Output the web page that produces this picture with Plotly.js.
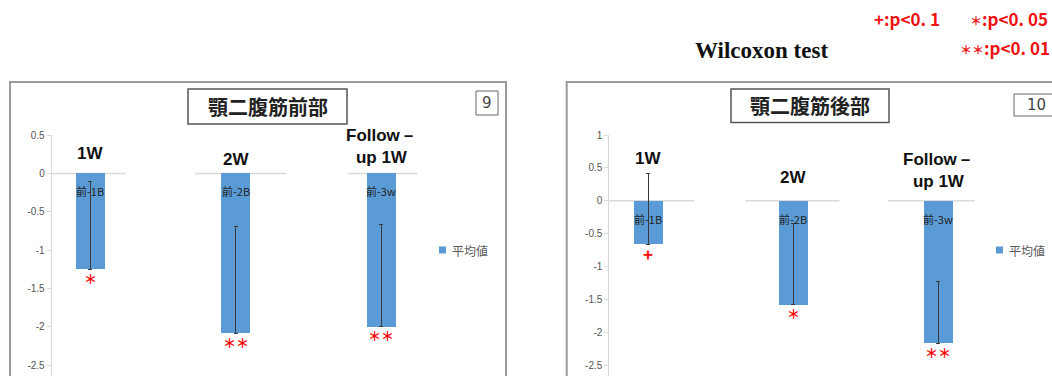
<!DOCTYPE html>
<html><head><meta charset="utf-8">
<script src="https://cdn.plot.ly/plotly-3.0.1.min.js"></script>
<style>html,body{margin:0;padding:0;background:#fff;}#chart{width:1052px;height:376px;}</style>
</head><body><div id="chart"></div>
<script>
// ---- data ----
const categories = ['前-1B', '前-2B', '前-3w'];
const periodLabels = ['1W', '2W', 'Follow－<br>up 1W'];
const panelTitles = ['顎二腹筋前部', '顎二腹筋後部'];
const panelNumbers = ['9', '10'];
const seriesName = '平均値';
const anteriorMean = [-1.25, -2.08, -2.00];
const anteriorSD = [1.14, 1.39, 1.34];
const anteriorSig = ['*', '**', '**'];
const posteriorMean = [-0.66, -1.58, -2.16];
const posteriorSD = [1.07, 1.24, 0.93];
const posteriorSig = ['+', '*', '**'];
const anteriorTicks = [0.5, 0, -0.5, -1, -1.5, -2, -2.5];
const anteriorTickText = ['0.5', '0', '-0.5', '-1', '-1.5', '-2', '-2.5'];
const posteriorTicks = [1, 0.5, 0, -0.5, -1, -1.5, -2, -2.5];
const posteriorTickText = ['1', '0.5', '0', '-0.5', '-1', '-1.5', '-2', '-2.5'];
const testName = 'Wilcoxon test';
const sigMarks = ['+', '*', '**'];
const sigText = [':p&lt;0. 1', ':p&lt;0. 05', ':p&lt;0. 01'];

// ---- layout helpers ----
const W = 1052, H = 376;
const px = x => x / W;
const py = y => 1 - y / H;
const BLUE = '#5b9bd5';
const CJK = '"Noto Sans CJK JP", "Noto Sans", sans-serif';
const SANS = '"Liberation Sans", Arial, sans-serif';
// asterisks drawn as centred full-width stars, shrunk; '+' kept at full size
const markText = (s, starSize) => s.indexOf('*') >= 0
  ? '<span style="font-size:' + starSize + 'px">' + s.replace(/\*/g, '＊') + '</span>'
  : s;

const panels = [
  {mean: anteriorMean, sd: anteriorSD, sig: anteriorSig, ticks: anteriorTicks, tickText: anteriorTickText,
   xa: 'x', ya: 'y', xdom: [51.7, 430], xr: [-0.267, 2.337], ytop: 135, yr: [-2.64, 0.5],
   box: [10, 82, 506], titleBox: [188, 89, 347, 124], numBox: [476, 91, 498, 115], numX: 487,
   legend: [439, 250], periodY: [153, 159, 146.5],
   segs: [[-0.28, 0.24], [-0.28, 0.35], [-0.23, 0.25]], innerShift: -18},
  {mean: posteriorMean, sd: posteriorSD, sig: posteriorSig, ticks: posteriorTicks, tickText: posteriorTickText,
   xa: 'x2', ya: 'y2', xdom: [609.3, 985], xr: [-0.267, 2.324], ytop: 135, yr: [-2.66, 1],
   box: [566.7, 82, 1080], titleBox: [731, 89, 889, 122.5], numBox: [1014, 94, 1080, 116], numX: 1036,
   legend: [996, 250], periodY: [158, 178, 170],
   segs: [[-0.28, 0.32], [-0.33, 0.32], [-0.345, 0.255]], innerShift: -18}
];

const traces = [];
const shapes = [];
const annotations = [];
const layout = {
  width: W, height: H, autosize: false,
  margin: {l: 0, r: 0, t: 0, b: 0, pad: 0},
  paper_bgcolor: '#ffffff', plot_bgcolor: 'rgba(0,0,0,0)',
  showlegend: false, bargap: 0,
  font: {family: SANS, color: '#333'}
};

panels.forEach((p, k) => {
  const xKey = k === 0 ? 'xaxis' : 'xaxis2';
  const yKey = k === 0 ? 'yaxis' : 'yaxis2';
  traces.push({
    type: 'bar', x: categories, y: p.mean, name: seriesName,
    xaxis: p.xa, yaxis: p.ya, width: 0.2,
    marker: {color: BLUE, line: {width: 0}},
    error_y: {type: 'data', symmetric: false, array: p.sd, arrayminus: p.sd.map(() => 0),
              color: '#3a3a3a', thickness: 1, width: 2},
    hoverinfo: 'none'
  });
  layout[xKey] = {
    domain: [px(p.xdom[0]), px(p.xdom[1])], range: p.xr, type: 'category',
    visible: false, fixedrange: true, anchor: p.ya
  };
  layout[yKey] = {
    domain: [0, py(p.ytop)], range: p.yr, anchor: p.xa,
    tickvals: p.ticks, ticktext: p.tickText,
    showline: true, linecolor: '#d9d9d9', linewidth: 1,
    ticks: 'outside', ticklen: 4, tickcolor: '#d9d9d9',
    showgrid: false, zeroline: false,
    tickfont: {family: SANS, size: 10, color: '#555'}, fixedrange: true
  };
  // panel frame
  shapes.push({type: 'rect', xref: 'paper', yref: 'paper',
    x0: px(p.box[0]), x1: px(p.box[2]), y0: py(p.box[1]), y1: -0.1,
    line: {color: '#9a9a9a', width: 2}, fillcolor: 'rgba(0,0,0,0)', layer: 'below'});
  // title box
  shapes.push({type: 'rect', xref: 'paper', yref: 'paper',
    x0: px(p.titleBox[0]), x1: px(p.titleBox[2]), y0: py(p.titleBox[3]), y1: py(p.titleBox[1]),
    line: {color: '#555', width: 1.5}});
  annotations.push({xref: 'paper', yref: 'paper', x: px((p.titleBox[0] + p.titleBox[2]) / 2),
    y: py((p.titleBox[1] + p.titleBox[3]) / 2), xanchor: 'center', yanchor: 'middle',
    text: '<b>' + panelTitles[k] + '</b>', showarrow: false,
    font: {family: CJK, size: 20, color: '#222'}});
  // number box
  shapes.push({type: 'rect', xref: 'paper', yref: 'paper',
    x0: px(p.numBox[0]), x1: px(p.numBox[2]), y0: py(p.numBox[3]), y1: py(p.numBox[1]),
    line: {color: '#666', width: 1}});
  annotations.push({xref: 'paper', yref: 'paper', x: px(p.numX),
    y: py((p.numBox[1] + p.numBox[3]) / 2), xanchor: 'center', yanchor: 'middle',
    text: panelNumbers[k], showarrow: false,
    font: {family: '"DejaVu Sans", sans-serif', size: 15, color: '#444'}});
  // legend
  shapes.push({type: 'rect', xref: 'paper', yref: 'paper',
    x0: px(p.legend[0]), x1: px(p.legend[0] + 7), y0: py(p.legend[1] + 3.5), y1: py(p.legend[1] - 3.5),
    line: {width: 0}, fillcolor: BLUE});
  annotations.push({xref: 'paper', yref: 'paper', x: px(p.legend[0] + 11), y: py(p.legend[1]),
    xanchor: 'left', yanchor: 'middle', text: seriesName, showarrow: false,
    font: {family: CJK, size: 12, color: '#595959'}});
  // per-category axis segments, labels, significance marks
  categories.forEach((c, i) => {
    const s = p.segs[i];
    shapes.push({type: 'line', xref: p.xa, yref: p.ya, x0: i + s[0], x1: i + s[1], y0: 0, y1: 0,
      line: {color: '#d9d9d9', width: 1.5}, layer: 'below'});
    annotations.push({xref: p.xa, yref: p.ya, x: i, y: 0, yshift: p.innerShift,
      xanchor: 'center', yanchor: 'middle', text: c, showarrow: false,
      font: {family: CJK, size: 11, color: '#222'}});
    annotations.push({xref: p.xa, yref: p.ya, x: i, y: p.mean[i], yshift: -9,
      xanchor: 'center', yanchor: 'middle', text: '<b>' + markText(p.sig[i], 13) + '</b>', showarrow: false,
      font: {family: CJK, size: 17, color: '#ff0000'}});
    annotations.push({xref: p.xa, yref: 'paper', x: i, y: py(p.periodY[i]),
      xanchor: 'center', yanchor: 'middle', text: '<b>' + periodLabels[i] + '</b>', showarrow: false,
      font: {family: SANS, size: 17, color: '#111'}});
  });
});

// header texts
annotations.push({xref: 'paper', yref: 'paper', x: px(761), y: py(50), xanchor: 'center', yanchor: 'middle',
  text: '<b>' + testName + '</b>', showarrow: false,
  font: {family: '"Liberation Serif", "Times New Roman", serif', size: 23, color: '#111'}});
const sigPos = [[872, 19], [968, 19], [958, 48]];
sigMarks.forEach((m, i) => {
  annotations.push({xref: 'paper', yref: 'paper', x: px(sigPos[i][0]), y: py(sigPos[i][1]),
    xanchor: 'left', yanchor: 'middle',
    text: '<b>' + markText(m, 12) + sigText[i] + '</b>', showarrow: false,
    font: {family: CJK, size: 17, color: '#ee1111'}});
});

layout.shapes = shapes;
layout.annotations = annotations;
Plotly.newPlot('chart', traces, layout, {staticPlot: true, displayModeBar: false});
</script>
</body></html>
